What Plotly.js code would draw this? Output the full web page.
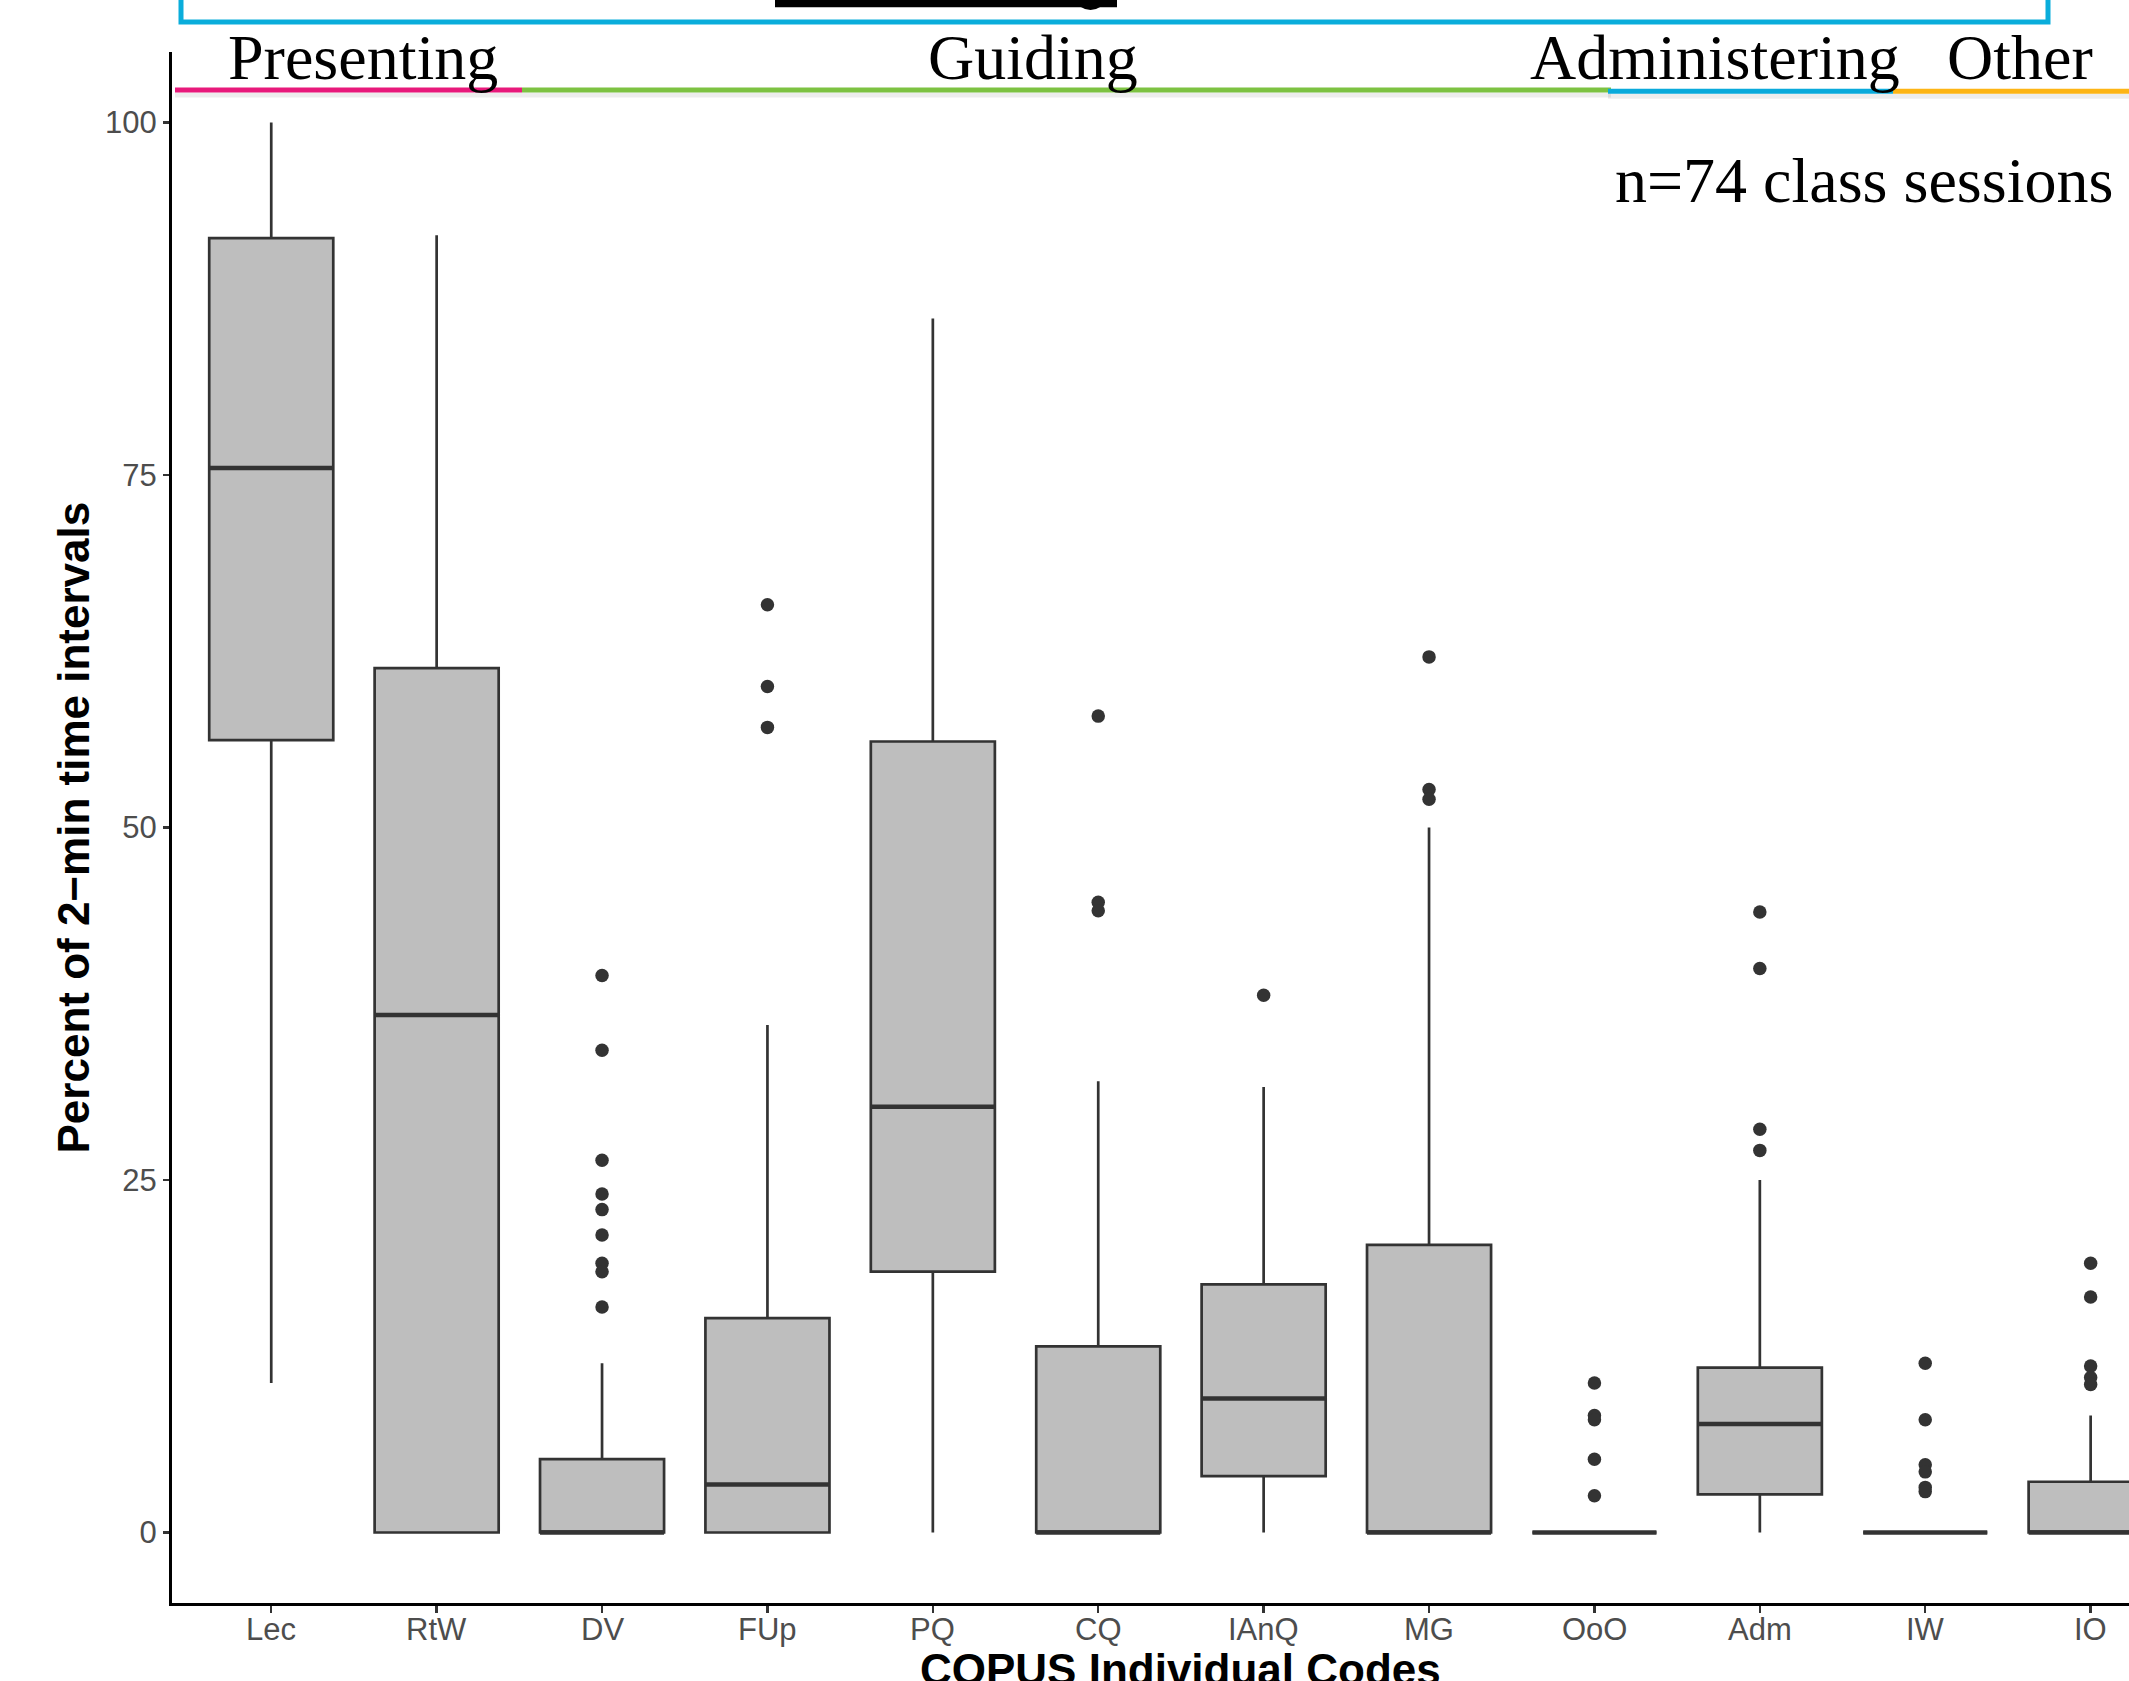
<!DOCTYPE html>
<html>
<head>
<meta charset="utf-8">
<script src="https://cdn.plot.ly/plotly-3.0.1.min.js"></script>
<style>html,body{margin:0;padding:0;background:#fff;overflow:hidden}</style>
</head>
<body>
<div id="chart"></div>
<script>
// ---- data ----
const codes = ['Lec','RtW','DV','FUp','PQ','CQ','IAnQ','MG','OoO','Adm','IW','IO'];
const lowerWhisker = [10.6, 0, 0, 0, 0, 0, 0, 0, 0, 0, 0, 0];
const q1Values     = [56.2, 0, 0, 0, 18.5, 0, 4.0, 0, 0, 2.7, 0, 0];
const medianValues = [75.5, 36.7, 0, 3.4, 30.2, 0, 9.5, 0, 0, 7.7, 0, 0];
const q3Values     = [91.8, 61.3, 5.2, 15.2, 56.1, 13.2, 17.6, 20.4, 0, 11.7, 0, 3.6];
const upperWhisker = [100, 92.0, 12.0, 36.0, 86.1, 32.0, 31.6, 50.0, 0, 25.0, 0, 8.3];
const outlierCodes = ['DV','DV','DV','DV','DV','DV','DV','DV','DV',
                      'FUp','FUp','FUp',
                      'CQ','CQ','CQ',
                      'IAnQ',
                      'MG','MG','MG',
                      'OoO','OoO','OoO','OoO','OoO',
                      'Adm','Adm','Adm','Adm',
                      'IW','IW','IW','IW','IW','IW',
                      'IO','IO','IO','IO','IO'];
const outlierValues = [39.5,34.2,26.4,24.0,22.9,21.1,19.1,18.5,16.0,
                       65.8,60.0,57.1,
                       57.9,44.7,44.1,
                       38.1,
                       62.1,52.7,52.0,
                       10.6,8.3,8.0,5.2,2.6,
                       44.0,40.0,28.6,27.1,
                       12.0,8.0,4.8,4.3,3.2,2.9,
                       19.1,16.7,11.8,11.0,10.5];
const yTicks = [0, 25, 50, 75, 100];
const groupNames = ['Presenting','Guiding','Administering','Other'];
const noteText = 'n=74 class sessions';
const xTitle = 'COPUS Individual Codes';
const yTitle = 'Percent of 2\u2212min time intervals';

// ---- layout geometry ----
const W = 2129, H = 1681;
const L = 172, R = 0, T = 52, B = 78;
const PW = W - L - R, PH = H - T - B;
const px = x => (x - L) / PW;          // pixel -> paper x
const py = y => (H - B - y) / PH;      // pixel -> paper y
const BOXW = 0.75;
const SANS = 'Liberation Sans, Arial, Helvetica, sans-serif';
const SERIF = 'Liberation Serif, Times New Roman, Times, serif';
const DARK = '#333333';

const idx = codes.map((c, i) => i);

const boxTrace = {
  type: 'box',
  x: idx,
  q1: q1Values,
  median: medianValues,
  q3: q3Values,
  lowerfence: lowerWhisker,
  upperfence: upperWhisker,
  width: BOXW,
  fillcolor: '#BEBEBE',
  line: {color: DARK, width: 2.7},
  whiskerwidth: 0,
  boxpoints: false,
  hoverinfo: 'skip',
  showlegend: false
};

const medX = [], medY = [];
idx.forEach(i => {
  medX.push(i - BOXW / 2, i + BOXW / 2, null);
  medY.push(medianValues[i], medianValues[i], null);
});
const medianTrace = {
  type: 'scatter', mode: 'lines', x: medX, y: medY,
  line: {color: DARK, width: 4.5}, hoverinfo: 'skip', showlegend: false
};

const outlierTrace = {
  type: 'scatter', mode: 'markers',
  x: outlierCodes.map(c => codes.indexOf(c)),
  y: outlierValues,
  marker: {color: DARK, size: 13.5, line: {width: 0}},
  hoverinfo: 'skip', showlegend: false
};

// header decorations (pixel positions)
const segs = [
  {x0: 175, x1: 522, y: 90, color: '#E8197B'},
  {x0: 522, x1: 1611, y: 90, color: '#7DC242'},
  {x0: 1608, x1: 1893, y: 91.3, color: '#0AAADB'},
  {x0: 1893, x1: 2140, y: 91.3, color: '#FDB515'}
];
const shapes = [];
segs.forEach(s => shapes.push({type: 'line', xref: 'paper', yref: 'paper',
  x0: px(s.x0), x1: px(s.x1), y0: py(s.y + 5), y1: py(s.y + 5),
  line: {color: 'rgba(0,0,0,0.07)', width: 5}}));
segs.forEach(s => shapes.push({type: 'line', xref: 'paper', yref: 'paper',
  x0: px(s.x0), x1: px(s.x1), y0: py(s.y), y1: py(s.y),
  line: {color: s.color, width: 5}}));
shapes.push({type: 'rect', xref: 'paper', yref: 'paper',
  x0: px(181), x1: px(2048), y0: py(-20), y1: py(22),
  line: {color: '#0AADDB', width: 5}, fillcolor: 'rgba(0,0,0,0)'});
shapes.push({type: 'rect', xref: 'paper', yref: 'paper',
  x0: px(775), x1: px(1117), y0: py(-10), y1: py(7.3),
  line: {width: 0}, fillcolor: '#000'});
shapes.push({type: 'circle', xref: 'paper', yref: 'paper',
  x0: px(1077), x1: px(1104), y0: py(-10), y1: py(10),
  line: {width: 0}, fillcolor: '#000'});

const groupLeft = [226, 926, 1528, 1945];
const annotations = groupNames.map((g, i) => ({
  text: g, xref: 'paper', yref: 'paper', x: px(groupLeft[i]), y: py(58),
  xanchor: 'left', yanchor: 'middle', showarrow: false,
  font: {family: SERIF, size: 64, color: '#000'}
}));
annotations.push({
  text: noteText, xref: 'paper', yref: 'paper', x: px(1613), y: py(180),
  xanchor: 'left', yanchor: 'middle', showarrow: false,
  font: {family: SERIF, size: 64, color: '#000'}
});
// x tick labels placed just under the tick marks
codes.forEach((c, i) => annotations.push({
  text: c, xref: 'x', yref: 'paper', x: i, y: py(1610),
  xanchor: 'center', yanchor: 'top', showarrow: false,
  font: {family: SANS, size: 31, color: '#4D4D4D'}
}));
annotations.push({
  text: '<b>' + xTitle + '</b>', xref: 'x', yref: 'paper', x: (codes.length - 1) / 2, y: py(1643),
  xanchor: 'center', yanchor: 'top', showarrow: false,
  font: {family: SANS, size: 44, color: '#000'}
});
annotations.push({
  text: '<b>' + yTitle + '</b>', xref: 'paper', yref: 'paper', x: px(73), y: py((T + H - B) / 2),
  xanchor: 'center', yanchor: 'middle', textangle: -90, showarrow: false,
  font: {family: SANS, size: 44, color: '#000'}
});

const layout = {
  width: W, height: H,
  margin: {l: L, r: R, t: T, b: B, pad: 0},
  paper_bgcolor: '#fff', plot_bgcolor: '#fff',
  showlegend: false,
  xaxis: {
    range: [-0.6, PW / 165.4 - 0.6],
    tickvals: idx, ticktext: codes, showticklabels: false,
    showline: true, linecolor: '#000', linewidth: 3,
    ticks: 'outside', ticklen: 7, tickwidth: 2.5, tickcolor: DARK,
    showgrid: false, zeroline: false, fixedrange: true
  },
  yaxis: {
    range: [-5, 105],
    tickvals: yTicks, ticktext: yTicks.map(String),
    showline: true, linecolor: '#000', linewidth: 3,
    ticks: 'outside', ticklen: 6, tickwidth: 2.5, tickcolor: DARK,
    tickfont: {family: SANS, size: 31, color: '#4D4D4D'},
    showgrid: false, zeroline: false, fixedrange: true
  },
  shapes: shapes,
  annotations: annotations
};

Plotly.newPlot('chart', [boxTrace, medianTrace, outlierTrace], layout,
  {displayModeBar: false, staticPlot: true});
</script>
</body>
</html>
